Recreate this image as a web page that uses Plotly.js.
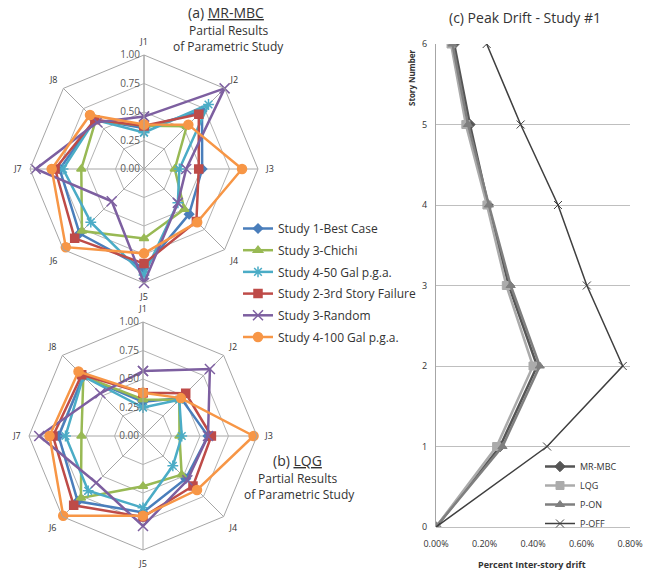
<!DOCTYPE html>
<html>
<head>
<meta charset="utf-8">
<script src="https://cdn.plot.ly/plotly-3.0.1.min.js"></script>
<style>html,body{margin:0;padding:0;background:#fff;}#chart{width:657px;height:572px;}</style>
</head>
<body>
<div id="chart"></div>
<script>
// ---------- DATA ----------
const joints = ['J1','J2','J3','J4','J5','J6','J7','J8'];
const studyNames = ['Study 1-Best Case','Study 3-Chichi','Study 4-50 Gal p.g.a.','Study 2-3rd Story Failure','Study 3-Random','Study 4-100 Gal p.g.a.'];
// (a) MR-MBC
const mrBest     = [0.36,0.72,0.51,0.56,0.87,0.80,0.74,0.61];
const mrChichi   = [0.38,0.53,0.27,0.50,0.61,0.77,0.55,0.60];
const mr50Gal    = [0.32,0.80,0.31,0.42,0.93,0.66,0.71,0.61];
const mr3rdStory = [0.38,0.68,0.48,0.65,0.83,0.86,0.78,0.61];
const mrRandom   = [0.46,1.00,0.37,0.42,1.00,0.40,0.95,0.58];
const mr100Gal   = [0.39,0.55,0.86,0.66,0.74,0.97,0.81,0.67];
// (b) LQG
const lqBest     = [0.30,0.47,0.57,0.53,0.67,0.81,0.74,0.74];
const lqChichi   = [0.32,0.45,0.32,0.48,0.44,0.77,0.54,0.74];
const lq50Gal    = [0.25,0.45,0.34,0.37,0.63,0.68,0.68,0.74];
const lq3rdStory = [0.38,0.53,0.60,0.62,0.71,0.86,0.79,0.76];
const lqRandom   = [0.57,0.83,0.57,0.55,0.79,0.58,0.91,0.53];
const lq100Gal   = [0.38,0.47,0.97,0.67,0.70,0.99,0.82,0.80];
// (c) Peak drift (percent)
const stories  = [0,1,2,3,4,5,6];
const driftMRMBC = [0,0.264,0.417,0.300,0.215,0.140,0.075];
const driftLQG   = [0,0.250,0.400,0.290,0.210,0.123,0.062];
const driftPON   = [0,0.274,0.428,0.308,0.218,0.132,0.068];
const driftPOFF  = [0,0.458,0.770,0.622,0.503,0.349,0.209];
const driftNames = ['MR-MBC','LQG','P-ON','P-OFF'];
const driftTickVals = [0,0.2,0.4,0.6,0.8];
const driftTickText = ['0.00%','0.20%','0.40%','0.60%','0.80%'];

// ---------- STYLE ----------
const studyColors = ['#4A7EBB','#98B954','#4BACC6','#BE4B48','#7D5FA0','#F79646'];
const studySymbols = ['diamond','triangle-up','asterisk-open','square','x-thin-open','circle'];
const studySizes = [7,8,9,8,10,9];

function close(a){ return a.concat([a[0]]); }
const traces = [];
const mrSets = [mrBest,mrChichi,mr50Gal,mr3rdStory,mrRandom,mr100Gal];
const lqSets = [lqBest,lqChichi,lq50Gal,lq3rdStory,lqRandom,lq100Gal];
mrSets.forEach((v,i)=>{
  traces.push({type:'scatterpolar', subplot:'polar', r:close(v), theta:close(joints), mode:'lines+markers',
    name:studyNames[i], legend:'legend', legendgroup:'g'+i,
    line:{color:studyColors[i], width:2.5}, marker:{symbol:studySymbols[i], size:studySizes[i], color:studyColors[i], line:{color:studyColors[i], width:1.5}}});
});
lqSets.forEach((v,i)=>{
  traces.push({type:'scatterpolar', subplot:'polar2', r:close(v), theta:close(joints), mode:'lines+markers',
    name:studyNames[i], showlegend:false, legendgroup:'g'+i,
    line:{color:studyColors[i], width:2.5}, marker:{symbol:studySymbols[i], size:studySizes[i], color:studyColors[i], line:{color:studyColors[i], width:1.5}}});
});
const driftSets = [driftMRMBC,driftLQG,driftPON,driftPOFF];
const driftColors = ['#555555','#ababab','#7f7f7f','#3f3f3f'];
const driftSymbols = ['diamond','square','triangle-up','x-thin-open'];
const driftWidths = [2.5,2.5,2.5,1.5];
const driftSizes = [8,8,8,8];
driftSets.forEach((v,i)=>{
  traces.push({type:'scatter', xaxis:'x', yaxis:'y', x:v, y:stories, mode:'lines+markers',
    name:driftNames[i], legend:'legend2',
    line:{color:driftColors[i], width:driftWidths[i]}, marker:{symbol:driftSymbols[i], size:driftSizes[i], color:driftColors[i], line:{color:driftColors[i], width:1}}});
});

function polarCfg(xd, yd){
  return {
    domain:{x:xd, y:yd}, bgcolor:'rgba(0,0,0,0)', gridshape:'linear',
    radialaxis:{range:[0,1], dtick:0.25, tickformat:'.2f', angle:90, tickangle:90, side:'counterclockwise',
      showline:true, linecolor:'#a6a6a6', linewidth:1,
      gridcolor:'#b3b3b3', ticks:'', tickfont:{family:'Open Sans, sans-serif', size:10, color:'#595959'}},
    angularaxis:{rotation:90, direction:'clockwise', linecolor:'#a6a6a6', gridcolor:'#a6a6a6',
      ticks:'outside', ticklen:6, tickcolor:'rgba(0,0,0,0)',
      tickfont:{family:'Open Sans, sans-serif', size:9, color:'#333'}}
  };
}

const W=657,H=572;
function px(x){return x/W;} function py(y){return 1-y/H;}
const R=114;
function ann(text,x,y,size,extra){
  return Object.assign({text:text, x:px(x), y:py(y), xref:'paper', yref:'paper', xanchor:'center', yanchor:'middle',
    showarrow:false, font:{size:size,color:'#333'}}, extra||{});
}
const layout = {
  width:W, height:H, margin:{l:0,r:0,t:0,b:0}, paper_bgcolor:'#fff', plot_bgcolor:'#fff',
  font:{family:'Open Sans, sans-serif', color:'#333'},
  polar: polarCfg([px(144-R),px(144+R)],[py(169+R),py(169-R)]),
  polar2: polarCfg([px(143-R),px(143+R)],[py(436+R),py(436-R)]),
  xaxis:{domain:[px(436),px(630)], range:[0,0.8], tickvals:driftTickVals, ticktext:driftTickText,
    showgrid:false, zeroline:false, showline:false, ticks:'', ticklabelstandoff:10, tickfont:{size:9,color:'#333'}, anchor:'y'},
  yaxis:{domain:[py(527),py(44)], range:[0,6], dtick:1, showgrid:true, gridcolor:'#bfbfbf', zeroline:true, zerolinecolor:'#bfbfbf',
    showline:true, linecolor:'#a6a6a6', ticks:'', ticklabelstandoff:6, tickfont:{size:9,color:'#333'}, anchor:'x'},
  legend:{x:px(238), y:py(214), xanchor:'left', yanchor:'top', bgcolor:'rgba(0,0,0,0)', traceorder:'grouped', tracegroupgap:2.7,
    font:{size:12,color:'#333'}},
  legend2:{x:px(540), y:py(452), xanchor:'left', yanchor:'top', bgcolor:'rgba(0,0,0,0)', font:{size:9,color:'#333'}, tracegroupgap:0},
  annotations:[
    ann('(a) <span style="text-decoration:underline">MR-MBC</span>',226,13,14),
    ann('Partial Results',228,31,12),
    ann('of Parametric Study',228,46,12),
    ann('(b) <span style="text-decoration:underline">LQG</span>',297,460,14),
    ann('Partial Results',297,478,12),
    ann('of Parametric Study',299,494,12),
    ann('(c) Peak Drift - Study #1',525,18,14),
    ann('<b>Story Number</b>',411,78,8,{textangle:-90}),
    ann('<b>Percent Inter-story drift</b>',532,564,9)
  ]
};
Plotly.newPlot('chart', traces, layout, {displayModeBar:false, staticPlot:true});
</script>
</body>
</html>
